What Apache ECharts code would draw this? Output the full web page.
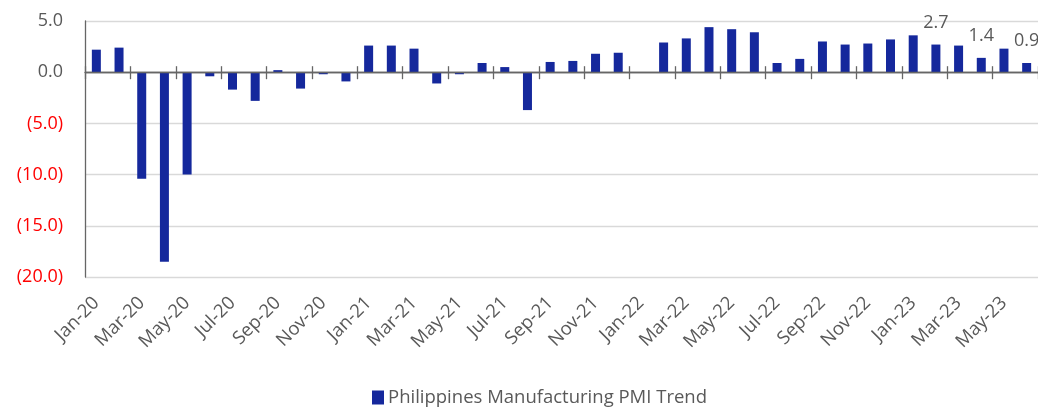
<!DOCTYPE html>
<html>
<head>
<meta charset="utf-8">
<script src="https://cdn.jsdelivr.net/npm/echarts@6/dist/echarts.min.js"></script>
<style>
html,body{margin:0;padding:0;background:#fff;}
#chart{width:1038px;height:411px;}
</style>
</head>
<body>
<div id="chart"></div>
<script>
const categories = [
  'Jan-20','Feb-20','Mar-20','Apr-20','May-20','Jun-20','Jul-20','Aug-20','Sep-20','Oct-20','Nov-20','Dec-20',
  'Jan-21','Feb-21','Mar-21','Apr-21','May-21','Jun-21','Jul-21','Aug-21','Sep-21','Oct-21','Nov-21','Dec-21',
  'Jan-22','Feb-22','Mar-22','Apr-22','May-22','Jun-22','Jul-22','Aug-22','Sep-22','Oct-22','Nov-22','Dec-22',
  'Jan-23','Feb-23','Mar-23','Apr-23','May-23','Jun-23'
];
const pmiTrend = [
  2.2, 2.4, -10.4, -18.5, -10.0, -0.4, -1.7, -2.8, 0.2, -1.6, -0.2, -0.9,
  2.6, 2.6, 2.3, -1.1, -0.2, 0.9, 0.5, -3.7, 1.0, 1.1, 1.8, 1.9,
  0.0, 2.9, 3.3, 4.4, 4.2, 3.9, 0.9, 1.3, 3.0, 2.7, 2.8, 3.2,
  3.6, 2.7, 2.6, 1.4, 2.3, 0.9
];
const labeledMonths = ['Feb-23', 'Apr-23', 'Jun-23'];
const yMin = -20, yMax = 5, yStep = 5;
const seriesName = 'Philippines Manufacturing PMI Trend';

const FONT = '"Open Sans", sans-serif';
const GRAY = '#595959';
const AXIS = '#666666';
const GRID = '#d9d9d9';

const barData = pmiTrend.map((v, i) => ({
  value: v,
  label: { show: labeledMonths.includes(categories[i]) }
}));

// one colour per gridline from yMin upward; the zero line is drawn dark like an axis line
const gridColors = [];
for (let v = yMin; v <= yMax; v += yStep) gridColors.push(v === 0 ? AXIS : GRID);

const chart = echarts.init(document.getElementById('chart'), null, { renderer: 'canvas' });
chart.setOption({
  animation: false,
  textStyle: { fontFamily: FONT },
  grid: { left: 85, right: -5, top: 21, bottom: 134, containLabel: false },
  legend: {
    data: [seriesName],
    left: 367, top: 383,
    icon: 'rect', itemWidth: 12, itemHeight: 14, itemGap: 4,
    textStyle: { fontFamily: FONT, fontSize: 18.5, color: GRAY, padding: [0, 0, 0, -1] }
  },
  xAxis: [
    {
      type: 'category', data: categories, gridIndex: 0, z: 5,
      axisLine: { show: true, onZero: true, onZeroAxisIndex: 0, lineStyle: { color: AXIS, width: 1.4 } },
      axisTick: { show: true, interval: 1, length: 7, lineStyle: { color: AXIS, width: 1.3 } },
      axisLabel: { show: false },
      splitLine: { show: false }
    },
    {
      type: 'category', data: categories, gridIndex: 0, position: 'top', z: 5,
      axisLine: { show: false, onZero: true, onZeroAxisIndex: 0 },
      axisTick: { show: true, inside: false, interval: 1, length: 6, lineStyle: { color: AXIS, width: 1.3 } },
      axisLabel: { show: false },
      splitLine: { show: false }
    },
    {
      type: 'category', data: categories, gridIndex: 0, position: 'bottom',
      axisLine: { show: false, onZero: false },
      axisTick: { show: false },
      axisLabel: {
        show: true, interval: 1, rotate: 45, margin: 23,
        fontFamily: FONT, fontSize: 18.5, color: GRAY
      },
      splitLine: { show: false }
    }
  ],
  yAxis: {
    type: 'value', min: yMin, max: yMax, interval: yStep,
    axisLine: { show: true, lineStyle: { color: AXIS, width: 1.3 } },
    axisTick: { show: false },
    splitLine: { show: true, lineStyle: { color: gridColors, width: 1.4 } },
    axisLabel: {
      margin: 22,
      formatter: v => v < 0 ? '{neg|(' + Math.abs(v).toFixed(1) + ')}' : '{pos|' + v.toFixed(1) + '}',
      rich: {
        neg: { color: '#ff0000', fontFamily: FONT, fontSize: 18 },
        pos: { color: GRAY, fontFamily: FONT, fontSize: 18 }
      }
    }
  },
  series: [{
    name: seriesName,
    type: 'bar',
    xAxisIndex: 0,
    data: barData,
    barWidth: 9,
    itemStyle: { color: '#15289c' },
    label: {
      position: 'top', distance: 13,
      fontFamily: FONT, fontSize: 18, color: GRAY,
      formatter: p => p.value.toFixed(1)
    }
  }]
});
</script>
</body>
</html>
